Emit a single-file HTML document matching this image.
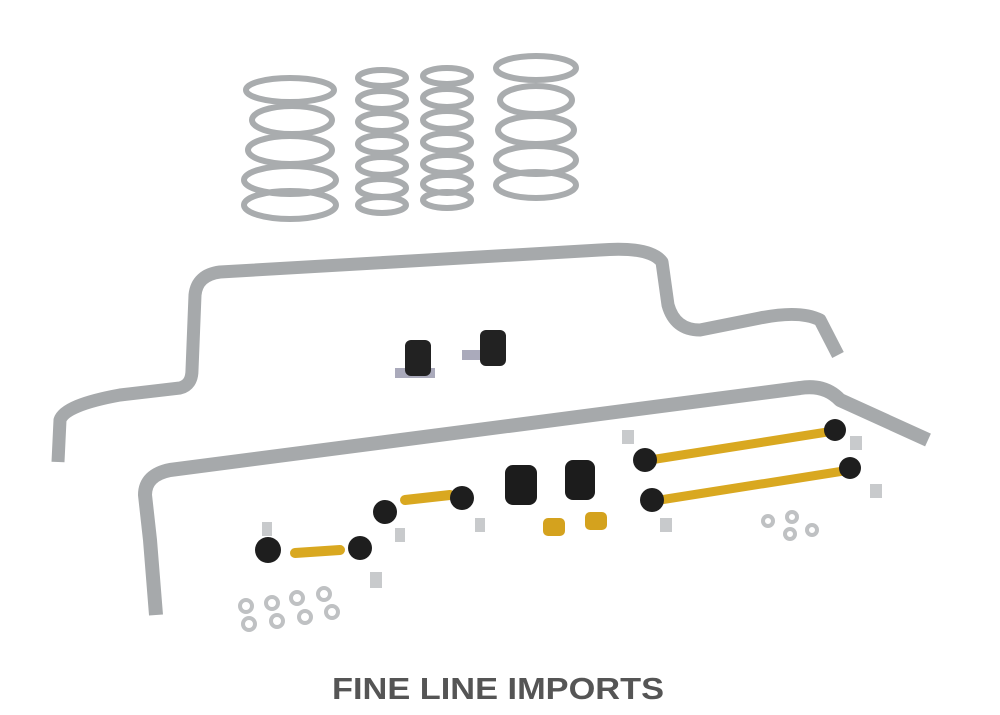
<!DOCTYPE html>
<html><head><meta charset="utf-8"><style>
html,body{margin:0;padding:0;background:#fff;}
svg{display:block}
</style></head><body>
<svg width="1000" height="715" viewBox="0 0 1000 715" xmlns="http://www.w3.org/2000/svg">
<rect width="1000" height="715" fill="#fff"/>
<!-- springs -->
<g fill="none" stroke="#a9acae" stroke-width="6">
<ellipse cx="290" cy="90" rx="44" ry="12"/><ellipse cx="292" cy="120" rx="40" ry="14"/><ellipse cx="290" cy="150" rx="42" ry="14"/><ellipse cx="290" cy="180" rx="46" ry="14"/><ellipse cx="290" cy="205" rx="46" ry="14"/>
<ellipse cx="382" cy="78" rx="24" ry="8"/><ellipse cx="382" cy="100" rx="24" ry="9"/><ellipse cx="382" cy="122" rx="24" ry="9"/><ellipse cx="382" cy="144" rx="24" ry="9"/><ellipse cx="382" cy="166" rx="24" ry="9"/><ellipse cx="382" cy="188" rx="24" ry="9"/><ellipse cx="382" cy="205" rx="24" ry="8"/>
<ellipse cx="447" cy="76" rx="24" ry="8"/><ellipse cx="447" cy="98" rx="24" ry="9"/><ellipse cx="447" cy="120" rx="24" ry="9"/><ellipse cx="447" cy="142" rx="24" ry="9"/><ellipse cx="447" cy="164" rx="24" ry="9"/><ellipse cx="447" cy="184" rx="24" ry="9"/><ellipse cx="447" cy="200" rx="24" ry="8"/>
<ellipse cx="536" cy="68" rx="40" ry="12"/><ellipse cx="536" cy="100" rx="36" ry="14"/><ellipse cx="536" cy="130" rx="38" ry="14"/><ellipse cx="536" cy="160" rx="40" ry="14"/><ellipse cx="536" cy="185" rx="40" ry="13"/>
</g>
<!-- upper bar -->
<path d="M58,462 L60,420 Q65,405 120,395 L180,388 Q192,385 192,370 L195,295 Q197,275 220,272 L600,250 Q650,246 662,262 L668,305 Q675,330 700,330 L760,318 Q800,310 820,320 L838,355" fill="none" stroke="#a6a9ab" stroke-width="13" stroke-linejoin="round"/>
<!-- lower bar -->
<path d="M156,615 L150,540 L145,495 Q145,475 170,470 L800,388 Q825,384 840,400 L928,440" fill="none" stroke="#a6a9ab" stroke-width="14" stroke-linejoin="round"/>
<!-- bushings -->
<g>
<rect x="395" y="368" width="40" height="10" fill="#aab" /><rect x="405" y="340" width="26" height="36" rx="6" fill="#222"/>
<rect x="462" y="350" width="40" height="10" fill="#aab"/><rect x="480" y="330" width="26" height="36" rx="6" fill="#222"/>
<rect x="505" y="465" width="32" height="40" rx="8" fill="#1c1c1c"/><rect x="565" y="460" width="30" height="40" rx="8" fill="#1c1c1c"/>
<rect x="543" y="518" width="22" height="18" rx="5" fill="#d4a21e"/><rect x="585" y="512" width="22" height="18" rx="5" fill="#d4a21e"/>
</g>
<!-- links -->
<g stroke-linecap="round">
<line x1="650" y1="460" x2="840" y2="430" stroke="#d9a820" stroke-width="9"/>
<line x1="660" y1="500" x2="850" y2="470" stroke="#d9a820" stroke-width="9"/>
<line x1="405" y1="500" x2="450" y2="495" stroke="#d9a820" stroke-width="10"/>
<line x1="295" y1="553" x2="340" y2="550" stroke="#d9a820" stroke-width="10"/>
</g>
<g fill="#1e1e1e">
<circle cx="645" cy="460" r="12"/><circle cx="835" cy="430" r="11"/><circle cx="652" cy="500" r="12"/><circle cx="850" cy="468" r="11"/>
<circle cx="385" cy="512" r="12"/><circle cx="462" cy="498" r="12"/><circle cx="268" cy="550" r="13"/><circle cx="360" cy="548" r="12"/>
</g>
<g fill="#c8cacc">
<rect x="622" y="430" width="12" height="14"/><rect x="850" y="436" width="12" height="14"/><rect x="870" y="484" width="12" height="14"/><rect x="660" y="518" width="12" height="14"/>
<rect x="395" y="528" width="10" height="14"/><rect x="475" y="518" width="10" height="14"/><rect x="262" y="522" width="10" height="14"/><rect x="370" y="572" width="12" height="16"/>
</g>
<!-- washers -->
<g fill="#fff" stroke="#bfc1c3" stroke-width="4">
<circle cx="246" cy="606" r="6"/><circle cx="272" cy="603" r="6"/><circle cx="297" cy="598" r="6"/><circle cx="324" cy="594" r="6"/>
<circle cx="249" cy="624" r="6"/><circle cx="277" cy="621" r="6"/><circle cx="305" cy="617" r="6"/><circle cx="332" cy="612" r="6"/>
<circle cx="768" cy="521" r="5"/><circle cx="792" cy="517" r="5"/><circle cx="790" cy="534" r="5"/><circle cx="812" cy="530" r="5"/>
</g>
<text x="332" y="699" textLength="332" lengthAdjust="spacingAndGlyphs" font-family="Liberation Sans, sans-serif" font-weight="bold" font-size="31" fill="#555">FINE LINE IMPORTS</text>
</svg>
</body></html>
